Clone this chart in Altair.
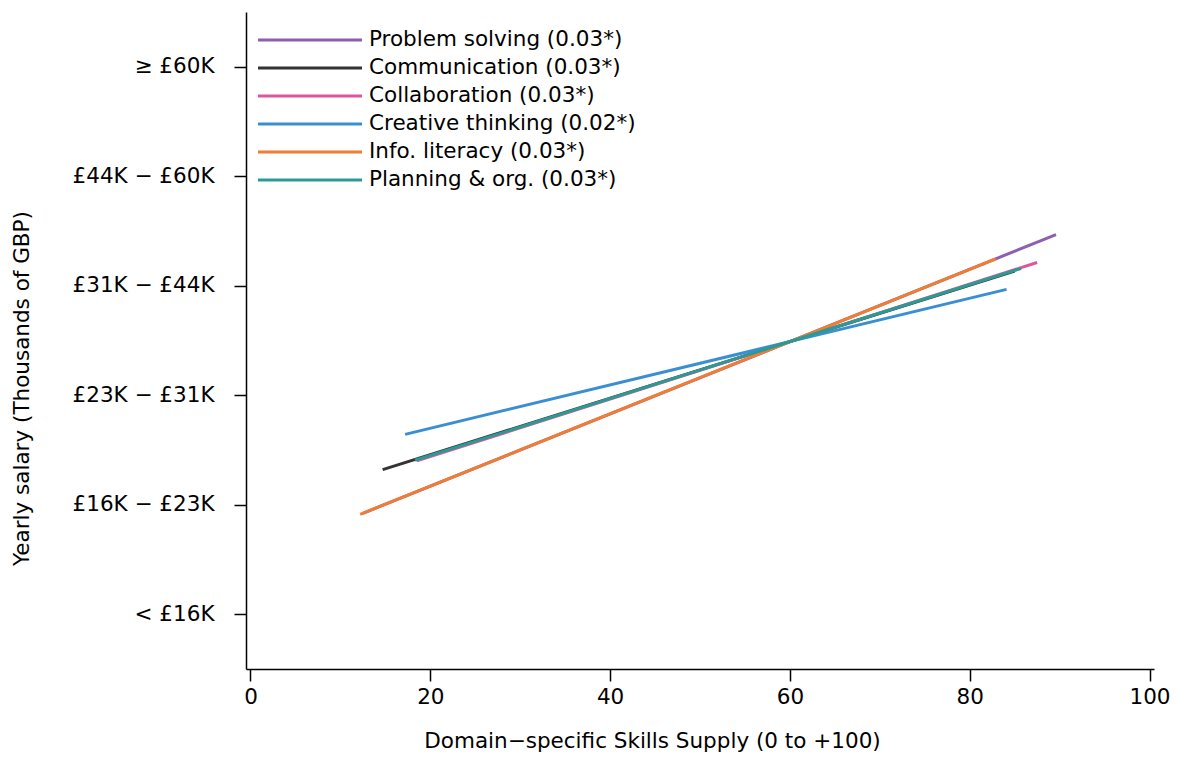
import json
import altair as alt
import pandas as pd

skills = ["Problem solving (0.03*)", "Communication (0.03*)", "Collaboration (0.03*)",
          "Creative thinking (0.02*)", "Info. literacy (0.03*)", "Planning & org. (0.03*)"]
colors = ["#8e5fb0", "#333333", "#de559f", "#3a8fd3", "#ef7d33", "#2a9b94"]
x_start = [12.5, 14.7, 18.5, 17.2, 12.2, 18.3]
x_end = [89.6, 85.0, 87.5, 84.1, 82.9, 85.7]
y_start = [1.922, 2.321, 2.401, 2.643, 1.913, 2.406]
y_end = [4.467, 4.135, 4.212, 3.967, 4.246, 4.158]

salary_levels = [1, 2, 3, 4, 5, 6]
salary_labels = ["< £16K", "£16K − £23K", "£23K − £31K", "£31K − £44K", "£44K − £60K", "≥ £60K"]
x_ticks = [0, 20, 40, 60, 80, 100]

rows = []
for i, s in enumerate(skills):
    rows.append({"skill": s, "x": x_start[i], "y": y_start[i], "k": i})
    rows.append({"skill": s, "x": x_end[i], "y": y_end[i], "k": i})
df = pd.DataFrame(rows)

label_expr = json.dumps(salary_labels, ensure_ascii=False) + "[datum.value - 1]"
FONT = "DejaVu Sans"
FS = 21.5

chart = alt.Chart(df).mark_line(strokeWidth=3).encode(
    x=alt.X("x:Q", scale=alt.Scale(domain=[-0.5, 100.5], nice=False, zero=False),
            axis=alt.Axis(values=x_ticks, title="Domain−specific Skills Supply (0 to +100)",
                          grid=False, tickSize=12, labelPadding=5, labelFontSize=FS,
                          titleFontSize=FS, titleFontWeight="normal", titleX=406, titleY=72,
                          titleBaseline="middle", domainColor="black", tickColor="black",
                          labelColor="black", titleColor="black", domainWidth=1.5, tickWidth=1.5)),
    y=alt.Y("y:Q", scale=alt.Scale(domain=[0.5, 6.5], nice=False, zero=False),
            axis=alt.Axis(values=salary_levels, labelExpr=label_expr,
                          title="Yearly salary (Thousands of GBP)",
                          grid=False, tickSize=12, labelPadding=20, labelFontSize=FS,
                          titleFontSize=FS, titleFontWeight="normal", titleX=-235, titleY=376,
                          titleBaseline="top", titleAngle=270,
                          domainColor="black", tickColor="black", labelColor="black",
                          titleColor="black", domainWidth=1.5, tickWidth=1.5)),
    color=alt.Color("skill:N", scale=alt.Scale(domain=skills, range=colors),
                    legend=alt.Legend(title=None, orient="none", legendX=52.5, legendY=16.5,
                                      symbolType="M -5.2 0 L 5.2 0", symbolSize=400,
                                      symbolStrokeWidth=3, labelFontSize=FS,
                                      labelColor="black", labelOffset=47.5, rowPadding=6,
                                      padding=0, labelLimit=400)),
    detail="skill:N",
    order="k:Q",
).properties(
    width=908, height=657,
    padding={"left": 238, "top": 4, "right": 16, "bottom": 83},
    autosize=alt.AutoSizeParams(type="none"),
).configure(
    font=FONT,
).configure_view(stroke=None)

chart.save("out.html", embed_options={"renderer": "svg", "actions": False})
